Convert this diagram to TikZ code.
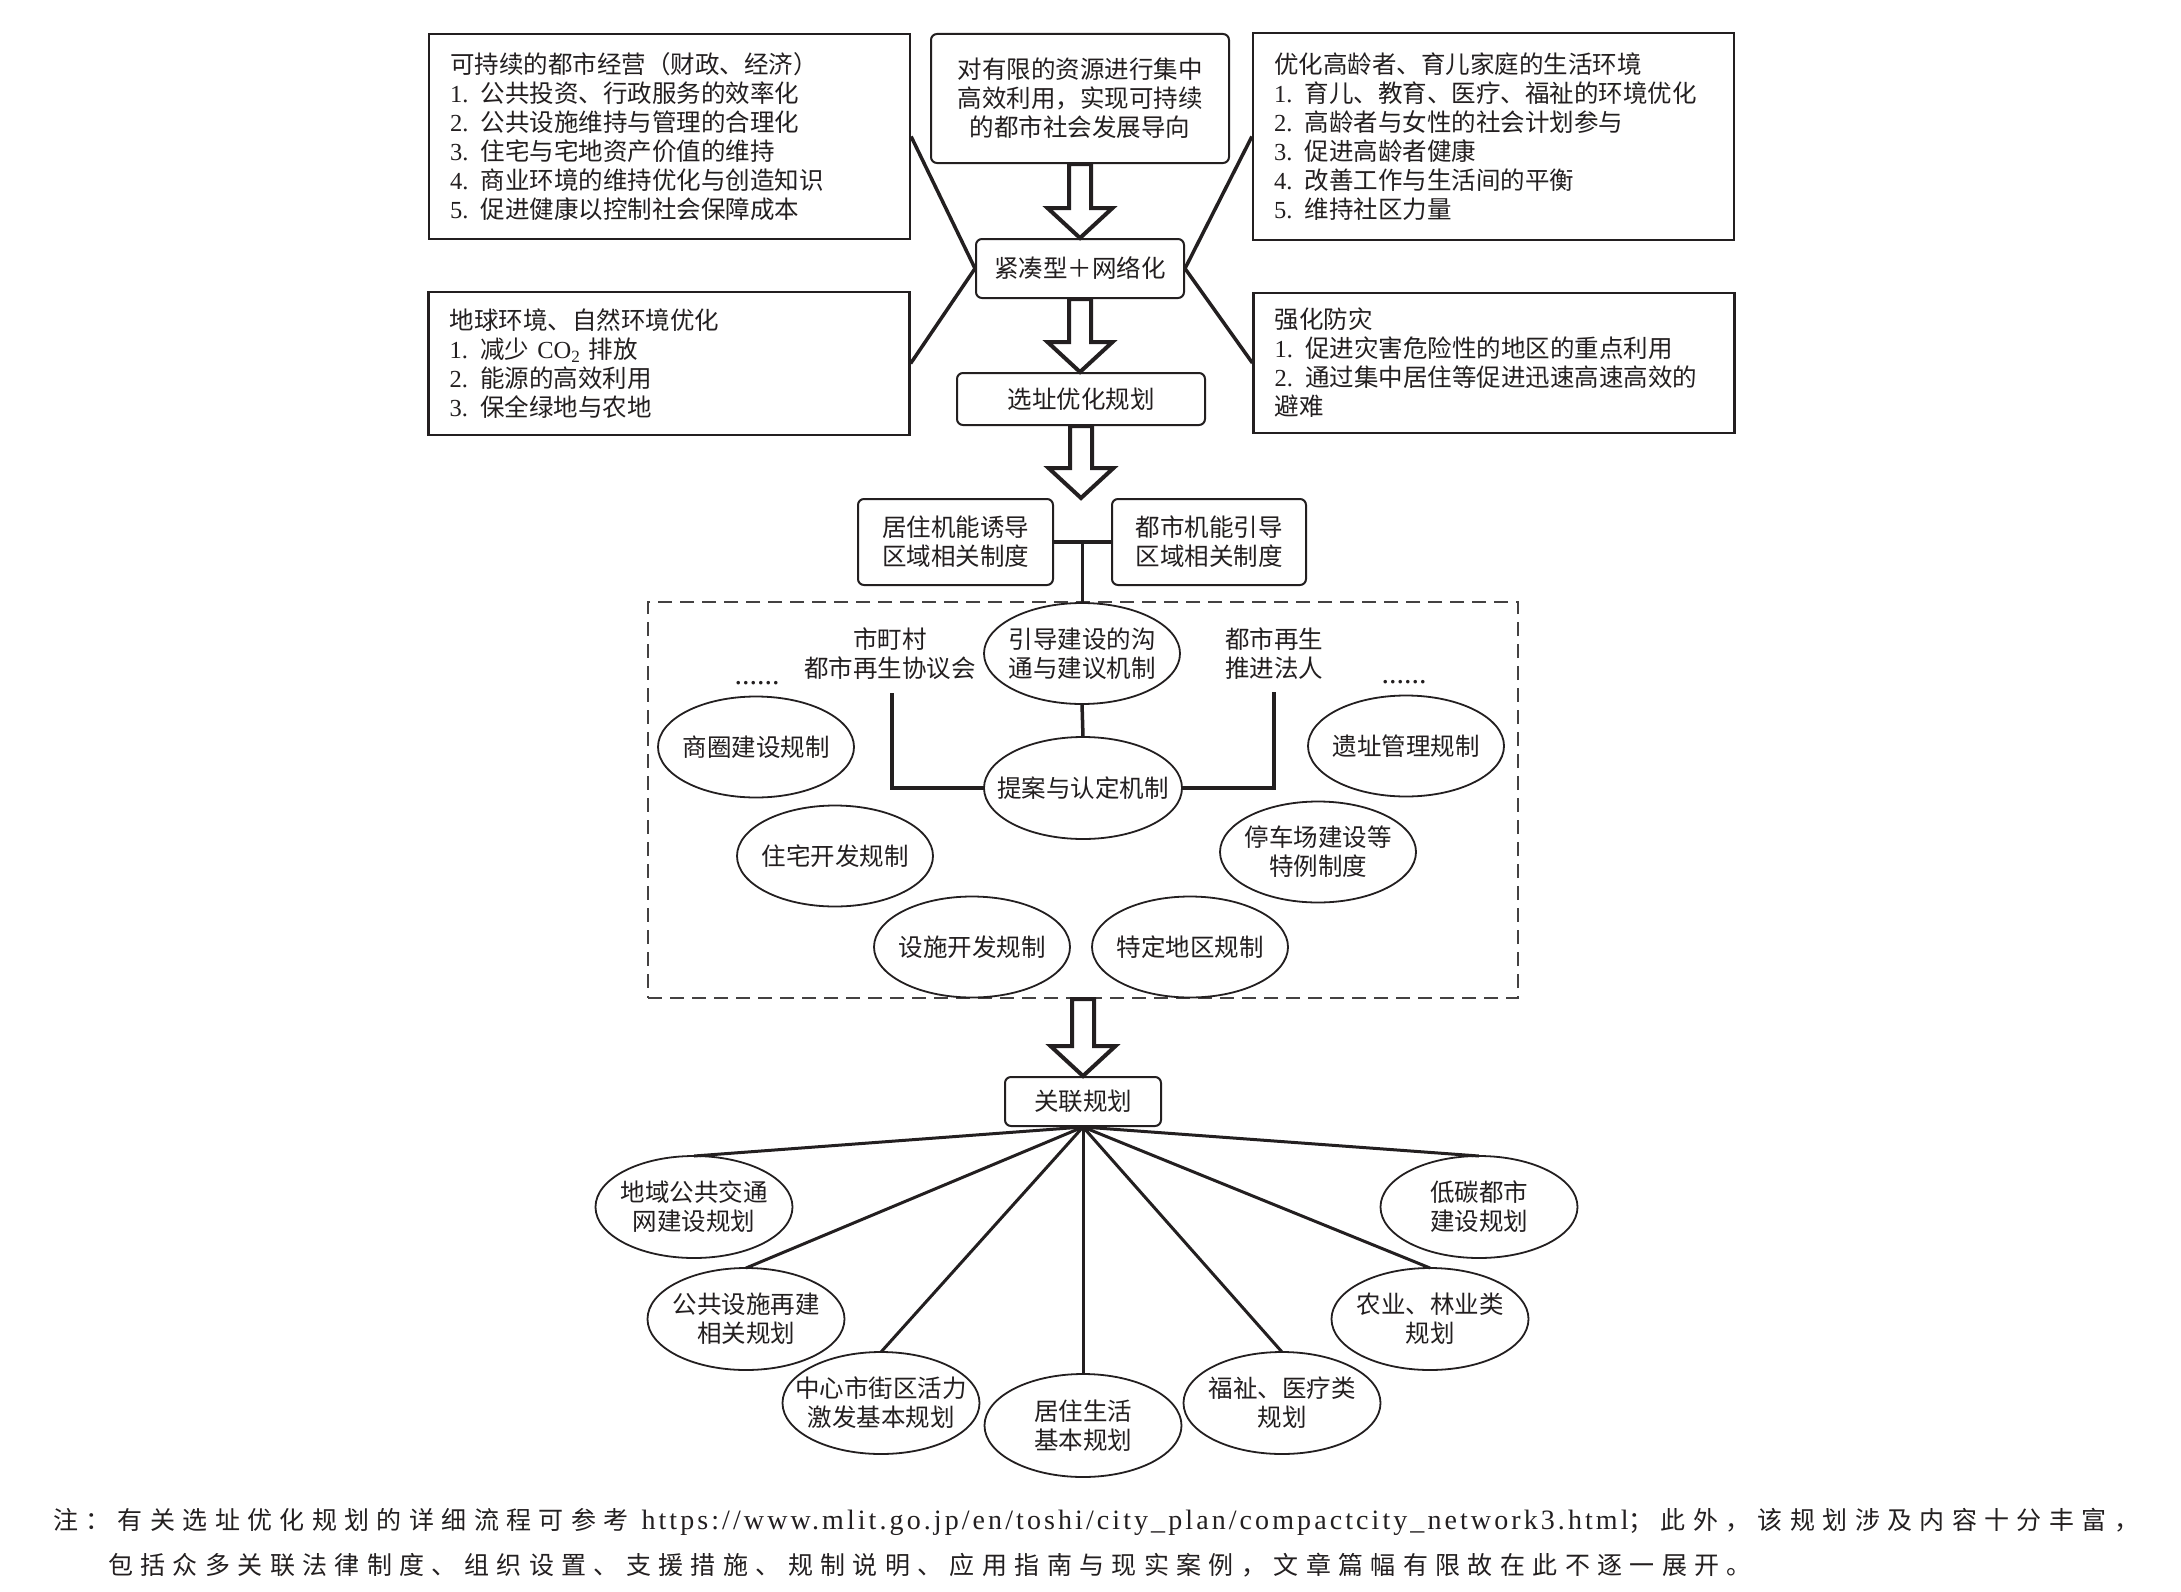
\documentclass[tikz,border=0pt]{standalone}
\usepackage{fontspec}
\setmainfont{Liberation Serif}
\newfontfamily\cjk{Noto Sans CJK SC}
\newfontfamily\notecjk[LetterSpace=29.5]{Noto Sans CJK SC}
\newfontfamily\urlfont[LetterSpace=11]{Liberation Serif}
\usetikzlibrary{shapes.geometric,calc}
\definecolor{ink}{HTML}{231F20}
\newcommand\blockarrow[2]{%
  \draw[blk] let \p1=(#1), \p2=(#2) in
    (\x1-11pt,\y1) -- (\x1-11pt,\y2+30pt) -- (\x1-32.5pt,\y2+30pt) -- (\x1,\y2)
    -- (\x1+32.5pt,\y2+30pt) -- (\x1+11pt,\y2+30pt) -- (\x1+11pt,\y1) -- cycle;}
\begin{document}
\begin{tikzpicture}[x=1pt,y=-1pt,
  every node/.style={text=ink, font=\cjk\fontsize{24.5}{29}\selectfont},
  sqbox/.style={draw=ink, line width=2.2pt, align=left, inner xsep=21pt, inner ysep=0pt, text width=439pt, minimum width=481pt},
  rbox/.style={draw=ink, line width=2pt, rounded corners=6pt, align=center, inner sep=0pt},
  ell/.style={draw=ink, line width=1.8pt, ellipse, align=center, inner sep=-20pt, outer sep=0pt, minimum width=196pt, minimum height=101pt},
  conn/.style={draw=ink, line width=3.5pt},
  fan/.style={draw=ink, line width=3pt},
  blk/.style={draw=ink, fill=white, line width=4pt, line join=miter},
  dbox/.style={draw=ink!85, line width=2pt, dash pattern=on 14pt off 8pt, inner sep=0pt},
  lbl/.style={align=center, inner sep=0pt}
]
\fill[white] (0,0) rectangle (2181,1592);

% top boxes
\node[sqbox, minimum height=205pt] (tl) at (669.5,136.5) {可持续的都市经营（财政、经济）\\\textrm{1. }公共投资、行政服务的效率化\\\textrm{2. }公共设施维持与管理的合理化\\\textrm{3. }住宅与宅地资产价值的维持\\\textrm{4. }商业环境的维持优化与创造知识\\\textrm{5. }促进健康以控制社会保障成本};
\node[sqbox, minimum height=143pt] (bl) at (669,363.5) {地球环境、自然环境优化\\\textrm{1. }减少 \textrm{CO\textsubscript{2}} 排放\\\textrm{2. }能源的高效利用\\\textrm{3. }保全绿地与农地};
\node[sqbox, minimum height=207pt] (tr) at (1493.5,136.5) {优化高龄者、育儿家庭的生活环境\\\textrm{1. }育儿、教育、医疗、福祉的环境优化\\\textrm{2. }高龄者与女性的社会计划参与\\\textrm{3. }促进高龄者健康\\\textrm{4. }改善工作与生活间的平衡\\\textrm{5. }维持社区力量};
\node[sqbox, minimum height=140pt] (br) at (1494,363) {强化防灾\\\textrm{1. }促进灾害危险性的地区的重点利用\\\textrm{2. }通过集中居住等促进迅速高速高效的\\避难};

\node[rbox, minimum width=298pt, minimum height=129pt] (tc) at (1080,98.5) {对有限的资源进行集中\\高效利用，实现可持续\\的都市社会发展导向};
\node[rbox, minimum width=208pt, minimum height=59pt] (ck) at (1080,268.5) {紧凑型＋网络化};
\node[rbox, minimum width=248pt, minimum height=52pt] (xz) at (1081,399) {选址优化规划};
\node[rbox, minimum width=195pt, minimum height=86pt] (ju) at (955.5,542) {居住机能诱导\\区域相关制度};
\node[rbox, minimum width=194pt, minimum height=86pt] (du) at (1209,542) {都市机能引导\\区域相关制度};

% connectors to 紧凑
\draw[conn] (tl.east) -- (ck.west);
\draw[conn] (bl.east) -- (ck.west);
\draw[conn] (tr.west) -- (ck.east);
\draw[conn] (br.west) -- (ck.east);

% dashed region
\node[dbox, minimum width=870pt, minimum height=396pt] (db) at (1083,800) {};
\node[ell] (yd) at (1082,653.5) {引导建设的沟\\通与建议机制};
\node[ell, minimum width=198pt, minimum height=102pt] (ta) at (1083,788) {提案与认定机制};
\node[lbl] (sm) at (890,654) {市町村\\都市再生协议会};
\node[lbl] (tj) at (1274,654) {都市再生\\推进法人};
\node[inner sep=0pt, anchor=south, font=\rmfamily\fontsize{30}{30}\selectfont] (d1) at (757,685) {......};
\node[inner sep=0pt, anchor=south, font=\rmfamily\fontsize{30}{30}\selectfont] (d2) at (1404,684) {......};
\node[ell] (e1) at (756,747) {商圈建设规制};
\node[ell] (e2) at (1406,746) {遗址管理规制};
\node[ell] (e3) at (835,856) {住宅开发规制};
\node[ell] (e4) at (1318,852) {停车场建设等\\特例制度};
\node[ell] (e5) at (972,947) {设施开发规制};
\node[ell] (e6) at (1190,947) {特定地区规制};

\draw[conn] (ju.east) -- (du.west);
\coordinate (jn) at ($(ju.east)!0.5!(du.west)$);
\draw[conn] (jn) -- (jn |- yd.north);
\draw[conn] (yd.south) -- (ta.north);
\coordinate (lb) at (892,693);
\coordinate (rb) at (1274,692);
\draw[conn] (lb) |- (ta.west);
\draw[conn] (rb) |- (ta.east);

% bottom part
\node[rbox, minimum width=156pt, minimum height=49pt] (gl) at (1083,1101.5) {关联规划};
\node[ell, minimum width=197pt, minimum height=102pt] (b1) at (694,1207) {地域公共交通\\网建设规划};
\node[ell, minimum width=197pt, minimum height=102pt] (b2) at (746,1319) {公共设施再建\\相关规划};
\node[ell, minimum width=197pt, minimum height=102pt] (b3) at (881,1403) {中心市街区活力\\激发基本规划};
\node[ell, minimum width=197pt, minimum height=103pt] (b4) at (1083,1425.5) {居住生活\\基本规划};
\node[ell, minimum width=197pt, minimum height=102pt] (b5) at (1282,1403) {福祉、医疗类\\规划};
\node[ell, minimum width=197pt, minimum height=102pt] (b6) at (1430,1319) {农业、林业类\\规划};
\node[ell, minimum width=197pt, minimum height=102pt] (b7) at (1479,1207) {低碳都市\\建设规划};
\foreach \n in {b1,b2,b3,b4,b5,b6,b7} \draw[fan] (gl.south) -- (\n.north);

% block arrows
\coordinate (jt) at (xz.south |- ju.north);
\blockarrow{tc.south}{ck.north}
\blockarrow{ck.south}{xz.north}
\blockarrow{xz.south}{jt}
\blockarrow{db.south}{gl.north}

% note
\node[anchor=west, align=left, inner sep=0pt, font=\notecjk\fontsize{25}{45}\selectfont] (note) at (53,1543)
 {注：有关选址优化规划的详细流程可参考 {\urlfont\fontsize{28}{45}\selectfont https://www.mlit.go.jp/en/toshi/city\_plan/compactcity\_network3.html}；此外，该规划涉及内容十分丰富，\\
  \hspace*{55pt}包括众多关联法律制度、组织设置、支援措施、规制说明、应用指南与现实案例，文章篇幅有限故在此不逐一展开。};
\end{tikzpicture}
\end{document}
